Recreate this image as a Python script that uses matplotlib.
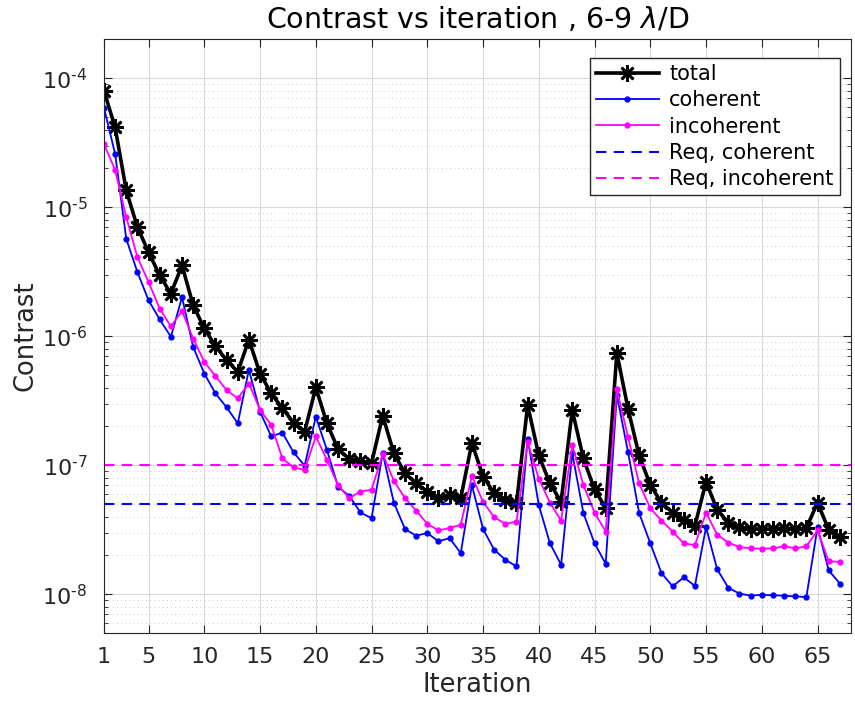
import numpy as np
import matplotlib
matplotlib.use('Agg')
import matplotlib.pyplot as plt
from matplotlib.ticker import LogLocator, NullFormatter, FuncFormatter

# contrast per iteration
iteration = np.arange(1, 68)

total = [8.0e-5, 4.16e-5, 1.35e-5, 7.0e-6, 4.49e-6, 2.96e-6, 2.14e-6, 3.54e-6, 1.74e-6, 1.15e-6,
         8.37e-7, 6.52e-7, 5.3e-7, 9.4e-7, 5.14e-7, 3.6e-7, 2.76e-7, 2.14e-7, 1.82e-7, 4.01e-7,
         2.11e-7, 1.33e-7, 1.12e-7, 1.07e-7, 1.04e-7, 2.42e-7, 1.24e-7, 8.65e-8, 7.23e-8, 6.24e-8,
         5.55e-8, 5.89e-8, 5.55e-8, 1.49e-7, 8.16e-8, 6.07e-8, 5.38e-8, 5.07e-8, 2.92e-7, 1.19e-7,
         7.23e-8, 5.2e-8, 2.67e-7, 1.13e-7, 6.5e-8, 4.64e-8, 7.4e-7, 2.75e-7, 1.19e-7, 7.03e-8,
         5.12e-8, 4.29e-8, 3.77e-8, 3.39e-8, 7.44e-8, 4.5e-8, 3.59e-8, 3.3e-8, 3.2e-8, 3.2e-8,
         3.2e-8, 3.26e-8, 3.2e-8, 3.26e-8, 5.12e-8, 3.17e-8, 2.76e-8]

coherent = [5.93e-5, 2.59e-5, 5.69e-6, 3.14e-6, 1.90e-6, 1.35e-6, 9.9e-7, 2.01e-6, 8.26e-7, 5.14e-7,
            3.6e-7, 2.81e-7, 2.11e-7, 5.5e-7, 2.6e-7, 1.67e-7, 1.79e-7, 1.26e-7, 9.9e-8, 2.38e-7,
            1.31e-7, 6.8e-8, 5.78e-8, 4.3e-8, 3.88e-8, 1.24e-7, 5.12e-8, 3.2e-8, 2.84e-8, 2.98e-8,
            2.57e-8, 2.72e-8, 2.08e-8, 7.0e-8, 3.2e-8, 2.21e-8, 1.85e-8, 1.64e-8, 1.61e-7, 4.9e-8,
            2.48e-8, 1.69e-8, 1.24e-7, 4.25e-8, 2.48e-8, 1.72e-8, 3.5e-7, 1.27e-7, 4.25e-8, 2.48e-8,
            1.46e-8, 1.15e-8, 1.35e-8, 1.16e-8, 3.3e-8, 1.56e-8, 1.12e-8, 1.01e-8, 9.74e-9, 9.9e-9,
            9.8e-9, 9.74e-9, 9.6e-9, 9.5e-9, 3.3e-8, 1.53e-8, 1.21e-8]

incoherent = [3.09e-5, 1.95e-5, 8.38e-6, 4.1e-6, 2.63e-6, 1.64e-6, 1.19e-6, 1.57e-6, 9.6e-7, 6.33e-7,
              4.91e-7, 3.82e-7, 3.3e-7, 4.3e-7, 2.68e-7, 2.05e-7, 1.13e-7, 9.6e-8, 9.2e-8, 1.67e-7,
              1.1e-7, 7.0e-8, 5.55e-8, 6.25e-8, 6.45e-8, 1.22e-7, 7.57e-8, 5.55e-8, 4.45e-8, 3.51e-8,
              3.12e-8, 3.26e-8, 3.45e-8, 8.26e-8, 5.2e-8, 3.95e-8, 3.51e-8, 3.65e-8, 1.51e-7, 7.87e-8,
              5.12e-8, 3.72e-8, 1.43e-7, 7.03e-8, 4.29e-8, 3.06e-8, 3.87e-7, 1.66e-7, 7.23e-8, 4.64e-8,
              3.72e-8, 3.06e-8, 2.48e-8, 2.4e-8, 4.29e-8, 2.89e-8, 2.51e-8, 2.32e-8, 2.27e-8, 2.25e-8,
              2.27e-8, 2.35e-8, 2.27e-8, 2.35e-8, 3.12e-8, 1.8e-8, 1.78e-8]

req_coherent = 5e-8
req_incoherent = 1e-7

xtick_vals = [1, 5, 10, 15, 20, 25, 30, 35, 40, 45, 50, 55, 60, 65]

MAG = '#ff00ff'
BLU = '#0000ff'


def pow10_label(v, pos):
    # matlab-style 10^{-n} with a short hyphen in the exponent
    k = int(round(np.log10(v)))
    sign = '\u2010' if k < 0 else ''
    return r'$\mathregular{10^{' + sign + str(abs(k)) + '}}$'


fig = plt.figure(figsize=(8.55, 7.01), dpi=100)
ax = fig.add_axes([0.1216, 0.097, 0.8737, 0.8467])

ax.plot(iteration, total, '-', color='k', lw=2.6, marker=(8, 2, 0),
        markersize=12, markeredgewidth=1.9, label='total')
ax.plot(iteration, coherent, '-', color=BLU, lw=1.3, marker='o',
        markersize=3.5, label='coherent')
ax.plot(iteration, incoherent, '-', color=MAG, lw=1.3, marker='o',
        markersize=3.5, label='incoherent')
ax.axhline(req_coherent, color=BLU, ls=(0, (5, 3.5)), lw=1.5, label='Req, coherent')
ax.axhline(req_incoherent, color=MAG, ls=(0, (5, 3.5)), lw=1.5, label='Req, incoherent')

ax.set_yscale('log')
ax.set_xlim(1, 68)
ax.set_ylim(5e-9, 2e-4)
ax.set_xticks(xtick_vals)
ax.yaxis.set_major_locator(LogLocator(base=10, numticks=20))
ax.yaxis.set_major_formatter(FuncFormatter(pow10_label))
ax.yaxis.set_minor_locator(LogLocator(base=10, subs=np.arange(2, 10), numticks=20))
ax.yaxis.set_minor_formatter(NullFormatter())

ax.grid(True, which='major', color='0.85', lw=0.8, ls='-')
ax.grid(True, which='minor', axis='y', color='0.72', lw=0.6, ls=(0, (1, 4)))
ax.set_axisbelow(True)

ax.tick_params(which='both', direction='in', top=True, right=True, colors='0.15')
ax.tick_params(which='major', length=6)
ax.tick_params(which='minor', length=3)
ax.tick_params(axis='y', which='major', pad=12, labelsize=16)
ax.tick_params(axis='x', which='major', pad=10, labelsize=16)
for s in ax.spines.values():
    s.set_color('0.15')

ax.set_xlabel('Iteration', fontsize=18.5, color='0.15', labelpad=4)
ax.set_ylabel('Contrast', fontsize=18.5, color='0.15')
ax.yaxis.set_label_coords(-0.088, 0.5)
ax.set_title(r'Contrast vs iteration , 6-9 $\lambda$/D', fontsize=20.5, pad=8)

leg = ax.legend(loc='upper right', bbox_to_anchor=(0.985, 0.969), fontsize=15,
                frameon=True, fancybox=False, edgecolor='0.15', framealpha=1,
                borderaxespad=0, handlelength=3.0, borderpad=0.3, labelspacing=0.3,
                handletextpad=0.5)
leg.get_frame().set_linewidth(1.0)

fig.savefig('out.png', dpi=100)
